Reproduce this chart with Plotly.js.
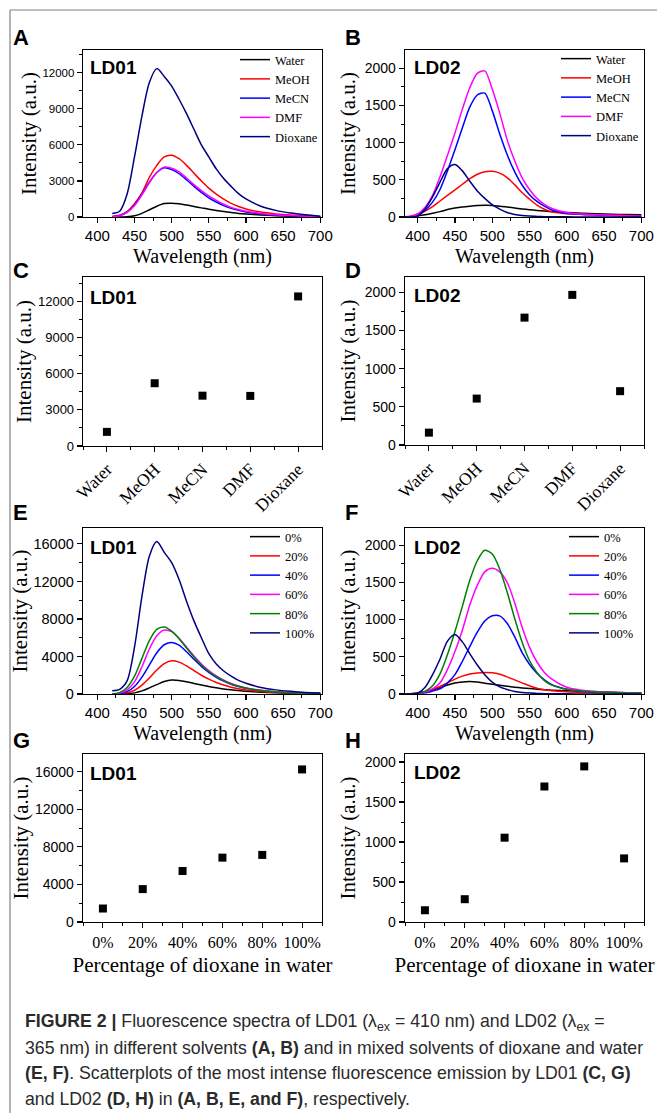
<!DOCTYPE html>
<html><head><meta charset="utf-8">
<script src="https://cdn.plot.ly/plotly-3.0.1.min.js"></script>
<style>html,body{margin:0;padding:0;background:#fff;}#chart{width:657px;height:1113px;}</style>
</head><body><div id="chart"></div>
<script>
// ---------- DATA ----------
const wlLD01 = [420,430,440,450,460,470,480,490,500,510,520,530,540,550,560,570,580,590,600,620,640,660,680,700];
const wlLD02 = [380,390,400,410,420,430,440,450,460,470,480,490,500,510,520,530,540,550,560,570,580,600,620,640,660,680,700];

const solvents = ['Water','MeOH','MeCN','DMF','Dioxane'];
const solventColors = ['#000000','#ff0000','#0000ff','#ff00ff','#000080'];

// Panel A: LD01 in solvents
const A_Water   = [0,0,20,100,300,600,900,1120,1150,1100,1000,880,760,640,540,450,370,300,250,170,110,70,40,15];
const A_MeOH    = [50,150,450,1100,2000,3300,4300,5000,5140,4850,4300,3650,3000,2400,1900,1480,1130,870,670,410,260,160,90,35];
const A_MeCN    = [30,120,400,1000,1900,2900,3700,4100,3950,3600,3100,2550,2050,1600,1250,950,720,550,420,260,160,100,60,20];
const A_DMF     = [30,110,380,950,1850,2850,3700,4150,4050,3750,3250,2700,2200,1750,1380,1060,800,620,480,300,190,120,70,25];
const A_Dioxane = [300,480,1900,5000,8400,11200,12350,11700,10900,9800,8600,7300,6000,5000,4000,3200,2550,1950,1500,900,550,330,180,60];

// Panel B: LD02 in solvents
const B_Water   = [0,5,15,30,50,72,100,120,135,145,153,157,155,145,135,120,108,98,88,80,72,60,52,45,38,33,30];
const B_MeOH    = [0,10,40,80,140,215,290,365,440,515,575,608,614,590,530,435,330,240,160,105,70,45,38,32,25,20,15];
const B_MeCN    = [0,5,30,90,200,370,620,905,1200,1480,1640,1665,1430,1120,840,610,430,300,210,145,95,50,35,28,20,16,13];
const B_DMF     = [0,5,40,130,290,540,830,1130,1450,1740,1930,1965,1720,1400,1040,760,530,370,250,170,115,60,40,30,22,18,15];
const B_Dioxane = [0,0,10,110,270,470,650,705,620,480,350,250,165,105,60,35,20,12,8,5,3,2,1,1,0,0,0];

// Panel C / D: maximum intensities per solvent
const C_max = [1170,5200,4170,4150,12390];
const D_max = [162,608,1668,1966,705];

// Panel E: LD01 in dioxane/water mixtures
const dioxanePct = [0,20,40,60,80,100];
const pctLabels = ['0%','20%','40%','60%','80%','100%'];
const pctColors = ['#000000','#ff0000','#0000ff','#ff00ff','#008000','#000080'];
const E_0   = [0,0,30,120,330,650,1000,1330,1490,1440,1300,1130,960,800,660,540,440,360,290,190,120,80,50,20];
const E_20  = [0,20,120,400,950,1700,2550,3250,3550,3400,3000,2500,2000,1580,1230,950,730,560,430,260,160,100,60,30];
const E_40  = [0,50,250,800,1800,3100,4400,5250,5500,5200,4500,3700,2950,2300,1780,1370,1040,790,600,360,225,140,85,40];
const E_60  = [0,100,450,1300,2900,4800,6200,6820,6650,5950,5000,4050,3200,2500,1930,1480,1120,850,650,390,245,150,90,40];
const E_80  = [0,150,700,1900,3800,5700,6900,7150,6700,5900,4900,3950,3100,2400,1850,1420,1080,820,630,380,240,150,90,40];
const E_100 = [350,500,1400,5000,10400,14700,16250,15100,14000,12200,9900,7800,6000,4300,3200,2450,1900,1450,1150,700,440,280,160,100];

// Panel F: LD02 in dioxane/water mixtures
const F_0   = [0,5,15,30,55,85,120,148,162,168,160,145,132,118,104,92,82,73,65,58,52,43,35,28,22,17,13];
const F_20  = [0,5,15,35,65,100,150,200,240,268,283,290,285,265,230,190,150,110,78,58,45,30,22,17,13,10,8];
const F_40  = [0,0,5,15,40,70,150,260,440,640,830,980,1050,1050,950,770,560,400,280,190,125,65,40,28,20,15,12];
const F_60  = [0,0,5,25,70,150,330,570,860,1200,1460,1640,1688,1640,1500,1230,900,630,430,290,200,90,50,32,22,16,12];
const F_80  = [0,0,10,35,110,270,530,840,1180,1530,1790,1930,1880,1680,1370,1020,700,450,290,180,120,65,40,28,20,15,12];
const F_100 = [0,0,10,90,260,470,710,800,700,540,390,260,160,95,60,35,20,12,8,5,3,2,1,1,0,0,0];

// Panel G / H: maximum intensities vs dioxane fraction
const G_max = [1436,3504,5433,6859,7148,16257];
const H_max = [147,285,1054,1694,1945,795];

// ---------- LAYOUT HELPERS ----------
const W = 657, H = 1113;
const dx = (a,b) => [a/W, b/W];
const dy = (a,b) => [1-b/H, 1-a/H];
const SANS = 'Liberation Sans, Arial, sans-serif';
const SERIF = 'Liberation Serif, Times New Roman, serif';

function ax(extra){
  return Object.assign({
    showline:true, linecolor:'#000', linewidth:1.3, mirror:true,
    ticks:'outside', ticklen:5, tickwidth:1.1, tickcolor:'#000',
    showgrid:false, zeroline:false, fixedrange:true, tickformat:'d',
    tickfont:{family:SANS, size:14, color:'#000'}
  }, extra);
}
const wlTitle = {text:'Wavelength (nm)', font:{family:SERIF, size:20, color:'#000'}, standoff:5};
const intTitle = {text:'Intensity (a.u.)', font:{family:SERIF, size:21, color:'#000'}, standoff:3};
const intTitleL = {text:'Intensity (a.u.)', font:{family:SERIF, size:21, color:'#000'}, standoff:0};
const pctTitle = {text:'Percentage of dioxane in water', font:{family:SERIF, size:21, color:'#000'}, standoff:7};

const traces = [];
function spectra(wl, series, names, colors, xa, ya, legend){
  series.forEach((s,i)=>{
    traces.push({x:wl, y:s, name:names[i], type:'scatter', mode:'lines',
      line:{color:colors[i], width:1.5, shape:'spline', smoothing:0.8},
      xaxis:xa, yaxis:ya, legend:legend, hoverinfo:'skip'});
  });
}
spectra(wlLD01, [A_Water,A_MeOH,A_MeCN,A_DMF,A_Dioxane], solvents, solventColors, 'x','y','legend');
spectra(wlLD02, [B_Water,B_MeOH,B_MeCN,B_DMF,B_Dioxane], solvents, solventColors, 'x2','y2','legend2');
spectra(wlLD01, [E_0,E_20,E_40,E_60,E_80,E_100], pctLabels, pctColors, 'x5','y5','legend3');
spectra(wlLD02, [F_0,F_20,F_40,F_60,F_80,F_100], pctLabels, pctColors, 'x6','y6','legend4');

const idx = solvents.map((_,i)=>i);
function pts(x,y,xa,ya){
  traces.push({x:x, y:y, type:'scatter', mode:'markers', showlegend:false,
    marker:{symbol:'square', size:8, color:'#000'}, xaxis:xa, yaxis:ya, hoverinfo:'skip'});
}
pts(idx, C_max, 'x3','y3');
pts(idx, D_max, 'x4','y4');
pts(dioxanePct, G_max, 'x7','y7');
pts(dioxanePct, H_max, 'x8','y8');

const catTicks = {tickmode:'array', tickvals:idx, ticktext:solvents, tickangle:-45,
  tickfont:{family:SERIF, size:17.5, color:'#000'}, range:[-0.5,4.5],
  minor:{ticks:'outside', ticklen:3, tickwidth:1, tickcolor:'#000', dtick:0.5, tick0:-0.5}};
const pctTicks = {tickmode:'array', tickvals:dioxanePct, ticktext:pctLabels,
  tickfont:{family:SERIF, size:16, color:'#000'}, range:[-10,110],
  minor:{ticks:'outside', ticklen:3, tickwidth:1, tickcolor:'#000', dtick:10, tick0:-10}};
const wlTicks = {dtick:50, tick0:400, tickfont:{family:SANS, size:15, color:'#000'},
  minor:{ticks:'outside', ticklen:3, tickwidth:1, tickcolor:'#000', dtick:25}};
const minorY = d => ({ticks:'outside', ticklen:3, tickwidth:1, tickcolor:'#000', dtick:d});

const legendBase = {xanchor:'left', yanchor:'top', bgcolor:'rgba(0,0,0,0)', borderwidth:0,
  font:{family:SERIF, size:12.5, color:'#000'}, itemwidth:30, tracegroupgap:0};

const annotations = [];
function txt(x,y,text,font,opts){
  annotations.push(Object.assign({xref:'paper', yref:'paper', x:x/W, y:1-y/H, text:text,
    showarrow:false, xanchor:'left', yanchor:'middle', font:font}, opts||{}));
}
const letterFont = {family:SANS, size:22, color:'#000'};
[['A',11,37],['B',343,37],['C',11,270],['D',343,270],['E',11,513],['F',343,512],['G',11,741],['H',343,741]]
  .forEach(([t,x,y])=>txt(x,y,'<b>'+t+'</b>',letterFont));
const ldFont = {family:SANS, size:19, color:'#000'};
[['LD01',88,67],['LD02',412,67],['LD01',88,297],['LD02',412,296],['LD01',88,547],['LD02',412,547],['LD01',88,773],['LD02',412,772]]
  .forEach(([t,x,y])=>txt(x,y,'<b>'+t+'</b>',ldFont));

const capFont = {family:'Liberation Sans, Arial, sans-serif', size:17.7, color:'#2a2a2a'};
const caption = [
  '<b>FIGURE 2 |</b> Fluorescence spectra of LD01 (λ<sub>ex</sub> = 410 nm) and LD02 (λ<sub>ex</sub> =',
  '365 nm) in different solvents <b>(A, B)</b> and in mixed solvents of dioxane and water',
  '<b>(E, F)</b>. Scatterplots of the most intense fluorescence emission by LD01 <b>(C, G)</b>',
  'and LD02 <b>(D, H)</b> in <b>(A, B, E, and F)</b>, respectively.'
];
caption.forEach((t,i)=>txt(23, 1022 + i*25.5, t, capFont));

const layout = {
  width:W, height:H, margin:{l:0,r:0,t:0,b:0}, paper_bgcolor:'#fff', plot_bgcolor:'#fff',
  showlegend:true,
  xaxis:  ax(Object.assign({domain:dx(83,322), anchor:'y', range:[380.7,702.3], title:wlTitle}, wlTicks)),
  yaxis:  ax({domain:dy(50,217), anchor:'x', range:[0,13900], dtick:3000, minor:minorY(1500), title:intTitleL, tickfont:{family:SANS,size:11.5,color:'#000'}}),
  xaxis2: ax(Object.assign({domain:dx(405,644), anchor:'y2', range:[383,703.6], title:wlTitle}, wlTicks)),
  yaxis2: ax({domain:dy(50,217), anchor:'x2', range:[0,2245], dtick:500, minor:minorY(250), title:intTitle}),
  xaxis3: ax(Object.assign({domain:dx(83,322), anchor:'y3'}, catTicks)),
  yaxis3: ax({domain:dy(277,446), anchor:'x3', range:[0,14000], dtick:3000, minor:minorY(1500), title:intTitleL, tickfont:{family:SANS,size:13,color:'#000'}}),
  xaxis4: ax(Object.assign({domain:dx(405,644), anchor:'y4'}, catTicks)),
  yaxis4: ax({domain:dy(277,445), anchor:'x4', range:[0,2200], dtick:500, minor:minorY(250), title:intTitle}),
  xaxis5: ax(Object.assign({domain:dx(83,322), anchor:'y5', range:[380.7,702.3], title:wlTitle}, wlTicks)),
  yaxis5: ax({domain:dy(528,694), anchor:'x5', range:[0,17700], dtick:4000, minor:minorY(2000), title:intTitleL, tickfont:{family:SANS,size:14.5,color:'#000'}}),
  xaxis6: ax(Object.assign({domain:dx(405,644), anchor:'y6', range:[383,703.6], title:wlTitle}, wlTicks)),
  yaxis6: ax({domain:dy(528,694), anchor:'x6', range:[0,2230], dtick:500, minor:minorY(250), title:intTitle}),
  xaxis7: ax(Object.assign({domain:dx(83,322), anchor:'y7', title:pctTitle}, pctTicks)),
  yaxis7: ax({domain:dy(754,922), anchor:'x7', range:[0,17900], dtick:4000, minor:minorY(2000), title:intTitleL}),
  xaxis8: ax(Object.assign({domain:dx(405,644), anchor:'y8', title:pctTitle}, pctTicks)),
  yaxis8: ax({domain:dy(754,922), anchor:'x8', range:[0,2100], dtick:500, minor:minorY(250), title:intTitle}),
  legend:  Object.assign({x:235/W, y:1-45/H}, legendBase),
  legend2: Object.assign({x:556/W, y:1-44/H}, legendBase),
  legend3: Object.assign({x:245/W, y:1-522/H}, legendBase),
  legend4: Object.assign({x:564/W, y:1-522/H}, legendBase),
  annotations: annotations,
  shapes: [
    {type:'line', xref:'paper', yref:'paper', x0:10/W, x1:1, y0:1-10/H, y1:1-10/H, line:{color:'#808080', width:1.2}},
    {type:'line', xref:'paper', yref:'paper', x0:10/W, x1:10/W, y0:1-10/H, y1:0, line:{color:'#808080', width:1.2}}
  ]
};
Plotly.newPlot('chart', traces, layout, {displayModeBar:false, staticPlot:true});
</script>
</body></html>
